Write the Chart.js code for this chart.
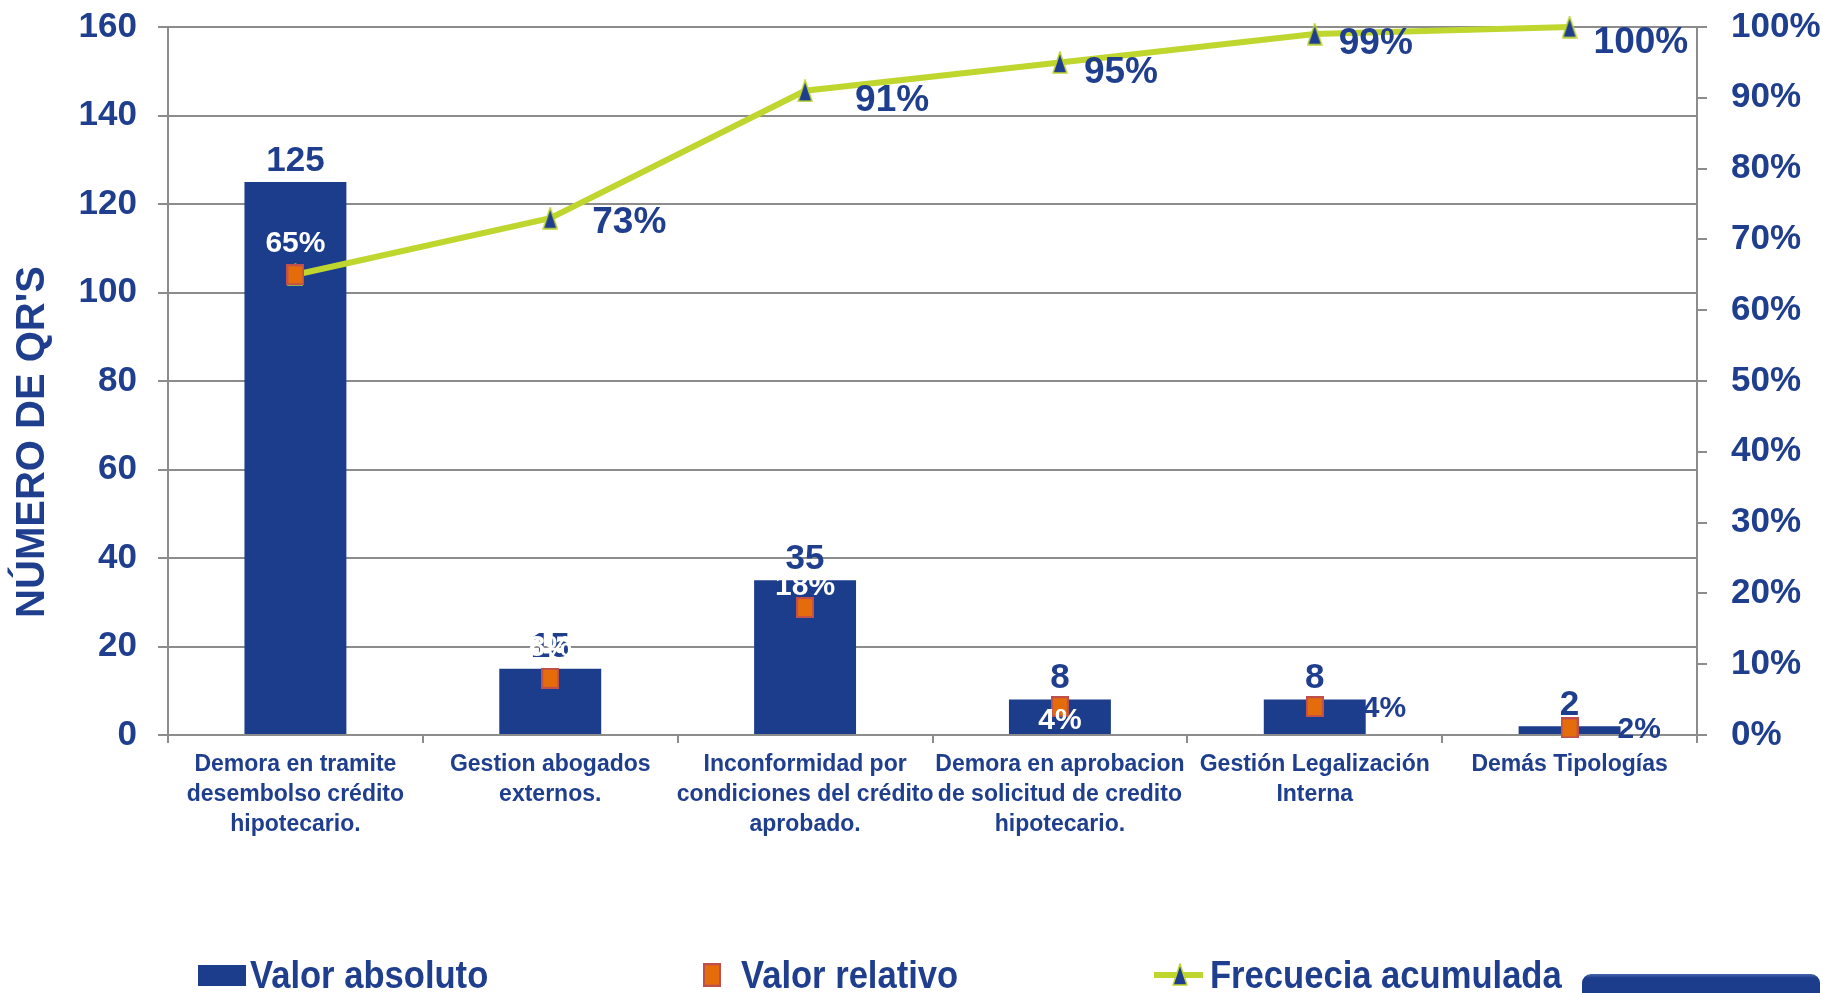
<!DOCTYPE html>
<html>
<head>
<meta charset="utf-8">
<script src="https://cdn.jsdelivr.net/npm/chart.js@4"></script>
<style>
  html, body { margin: 0; padding: 0; background: #fff; }
  #wrap { position: relative; width: 1823px; height: 993px; overflow: hidden; }
  #deco { position: absolute; left: 1582px; top: 974px; width: 238px; height: 40px; border-radius: 9px;
          background: linear-gradient(#4a66ad 0, #1c3c8c 4px, #1c3c8c 100%); }
</style>
</head>
<body>
<div id="wrap">
  <canvas id="pareto" width="1823" height="993"></canvas>
  <div id="deco"></div>
</div>
<script>
// datos
const categorias = [
  ['Demora en tramite', 'desembolso crédito', 'hipotecario.'],
  ['Gestion abogados', 'externos.'],
  ['Inconformidad por', 'condiciones del crédito', 'aprobado.'],
  ['Demora en aprobacion', 'de solicitud de credito', 'hipotecario.'],
  ['Gestión Legalización', 'Interna'],
  ['Demás Tipologías']
];
const valorAbsoluto = [125, 15, 35, 8, 8, 2];
const valorRelativo = [65, 8, 18, 4, 4, 1];
const etiquetasRelativo = ['65%', '8%', '18%', '4%', '4%', '2%'];
const frecuenciaAcumulada = [65, 73, 91, 95, 99, 100];
const ticksIzq = { min: 0, max: 160, step: 20 };
const ticksDer = { min: 0, max: 100, step: 10 };

const BLUE = '#1c3c8c', TEXT = '#1f3e8e', GREEN = '#bfd62f', ORANGE = '#e46c0a', GRID = '#8c8c8c';
const FONT = '"Liberation Sans", Arial, sans-serif';

// colocación de etiquetas, como en el original
const posRelativo = ['top', 'top', 'top', 'bottom', 'right', 'right'];
const dyRelativo = [-31, -31, -21, 14, 2, 2];
const dxAcumulada = [0, 42, 50, 24, 24, 24];
const dyAcumulada = [0, 5, 10, 10, 10, 16];

function markerRect(){
  const c = document.createElement('canvas');
  c.width = 18; c.height = 21;
  const g = c.getContext('2d');
  g.fillStyle = ORANGE; g.fillRect(0, 0, 18, 21);
  g.strokeStyle = '#c0504d'; g.lineWidth = 2; g.strokeRect(1, 1, 16, 19);
  return c;
}
function markerTri(){
  const c = document.createElement('canvas');
  c.width = 16; c.height = 23;
  const g = c.getContext('2d');
  g.beginPath(); g.moveTo(8, 1); g.lineTo(15, 22); g.lineTo(1, 22); g.closePath();
  g.fillStyle = TEXT; g.fill();
  g.strokeStyle = GREEN; g.lineWidth = 1.5; g.stroke();
  return c;
}
const rectImg = markerRect();
const triImg = markerTri();

const etiquetas = {
  id: 'etiquetas',
  afterDatasetsDraw(chart){
    const ctx = chart.ctx;
    ctx.save();
    ctx.textBaseline = 'middle';

    ctx.font = 'bold 35px ' + FONT;
    ctx.fillStyle = TEXT;
    ctx.textAlign = 'center';
    chart.getDatasetMeta(0).data.forEach((b, i) => {
      ctx.fillText(String(valorAbsoluto[i]), b.x, b.y - 21);
    });

    ctx.font = 'bold 30px ' + FONT;
    chart.getDatasetMeta(2).data.forEach((p, i) => {
      const pos = posRelativo[i];
      ctx.fillStyle = pos === 'right' ? TEXT : '#ffffff';
      if(pos === 'right'){ ctx.textAlign = 'left'; ctx.fillText(etiquetasRelativo[i], p.x + 48, p.y + dyRelativo[i]); }
      else { ctx.textAlign = 'center'; ctx.fillText(etiquetasRelativo[i], p.x, p.y + dyRelativo[i]); }
    });

    ctx.font = 'bold 37px ' + FONT;
    ctx.fillStyle = TEXT;
    ctx.textAlign = 'left';
    chart.getDatasetMeta(1).data.forEach((p, i) => {
      if(i === 0) return;
      ctx.fillText(frecuenciaAcumulada[i] + '%', p.x + dxAcumulada[i], p.y + dyAcumulada[i]);
    });
    ctx.restore();
  },
  afterDraw(chart){
    const ctx = chart.ctx;
    ctx.save();
    // título eje Y
    ctx.translate(33, 442);
    ctx.rotate(-Math.PI / 2);
    ctx.font = 'bold 40px ' + FONT;
    ctx.fillStyle = TEXT;
    ctx.textAlign = 'center';
    ctx.textBaseline = 'middle';
    ctx.fillText("NÚMERO DE QR'S", 0, 0);
    ctx.restore();

    // leyenda
    const txt = (x, s) => {
      ctx.save();
      ctx.translate(x, 988);
      ctx.scale(0.91, 1);
      ctx.font = 'bold 38px ' + FONT;
      ctx.fillStyle = TEXT;
      ctx.textAlign = 'left';
      ctx.textBaseline = 'alphabetic';
      ctx.fillText(s, 0, 0);
      ctx.restore();
    };
    ctx.save();
    ctx.fillStyle = BLUE;
    ctx.fillRect(198, 965, 48, 21);
    txt(250, chart.data.datasets[0].label);
    ctx.drawImage(rectImg, 703, 963, 18, 24);
    txt(741, chart.data.datasets[2].label);
    ctx.strokeStyle = GREEN; ctx.lineWidth = 6;
    ctx.beginPath(); ctx.moveTo(1154, 975); ctx.lineTo(1203, 975); ctx.stroke();
    ctx.drawImage(triImg, 1172, 963);
    txt(1210, chart.data.datasets[1].label);
    ctx.restore();
  }
};

new Chart(document.getElementById('pareto'), {
  type: 'bar',
  data: {
    labels: categorias,
    datasets: [
      { type: 'bar', label: 'Valor absoluto', data: valorAbsoluto, yAxisID: 'y',
        backgroundColor: BLUE, barPercentage: 0.4, categoryPercentage: 1, order: 3 },
      { type: 'line', label: 'Frecuecia acumulada', data: frecuenciaAcumulada, yAxisID: 'y1',
        borderColor: GREEN, borderWidth: 6, tension: 0, pointStyle: triImg, pointRadius: 10,
        clip: false, order: 2 },
      { type: 'line', label: 'Valor relativo', data: valorRelativo, yAxisID: 'y1',
        showLine: false, pointStyle: rectImg, pointRadius: 10, clip: false, order: 1 }
    ]
  },
  options: {
    responsive: false,
    animation: false,
    events: [],
    layout: { padding: { top: 27 } },
    plugins: { legend: { display: false }, tooltip: { enabled: false } },
    scales: {
      x: {
        offset: true,
        grid: { offset: true, drawOnChartArea: false, tickLength: 8, color: GRID, lineWidth: 2 },
        border: { display: true, color: GRID, width: 2 },
        ticks: { autoSkip: false, maxRotation: 0, padding: 7, color: TEXT,
                 font: { family: FONT, size: 23, weight: 'bold', lineHeight: 1.3 } },
        afterFit(s){ s.height = 258; }
      },
      y: {
        position: 'left',
        min: ticksIzq.min, max: ticksIzq.max,
        grid: { color: GRID, lineWidth: 2, tickLength: 10 },
        border: { color: GRID, width: 2 },
        ticks: { stepSize: ticksIzq.step, padding: 21, color: TEXT,
                 font: { family: FONT, size: 35, weight: 'bold' } },
        afterFit(s){ s.width = 168; s.paddingTop = 0; s.paddingBottom = 0; }
      },
      y1: {
        position: 'right',
        min: ticksDer.min, max: ticksDer.max,
        grid: { drawOnChartArea: false, color: GRID, lineWidth: 2, tickLength: 10 },
        border: { color: GRID, width: 2 },
        ticks: { stepSize: ticksDer.step, padding: 24, color: TEXT,
                 font: { family: FONT, size: 35, weight: 'bold' },
                 callback: v => v + '%' },
        afterFit(s){ s.width = 126; s.paddingTop = 0; s.paddingBottom = 0; }
      }
    }
  },
  plugins: [etiquetas]
});
</script>
</body>
</html>
